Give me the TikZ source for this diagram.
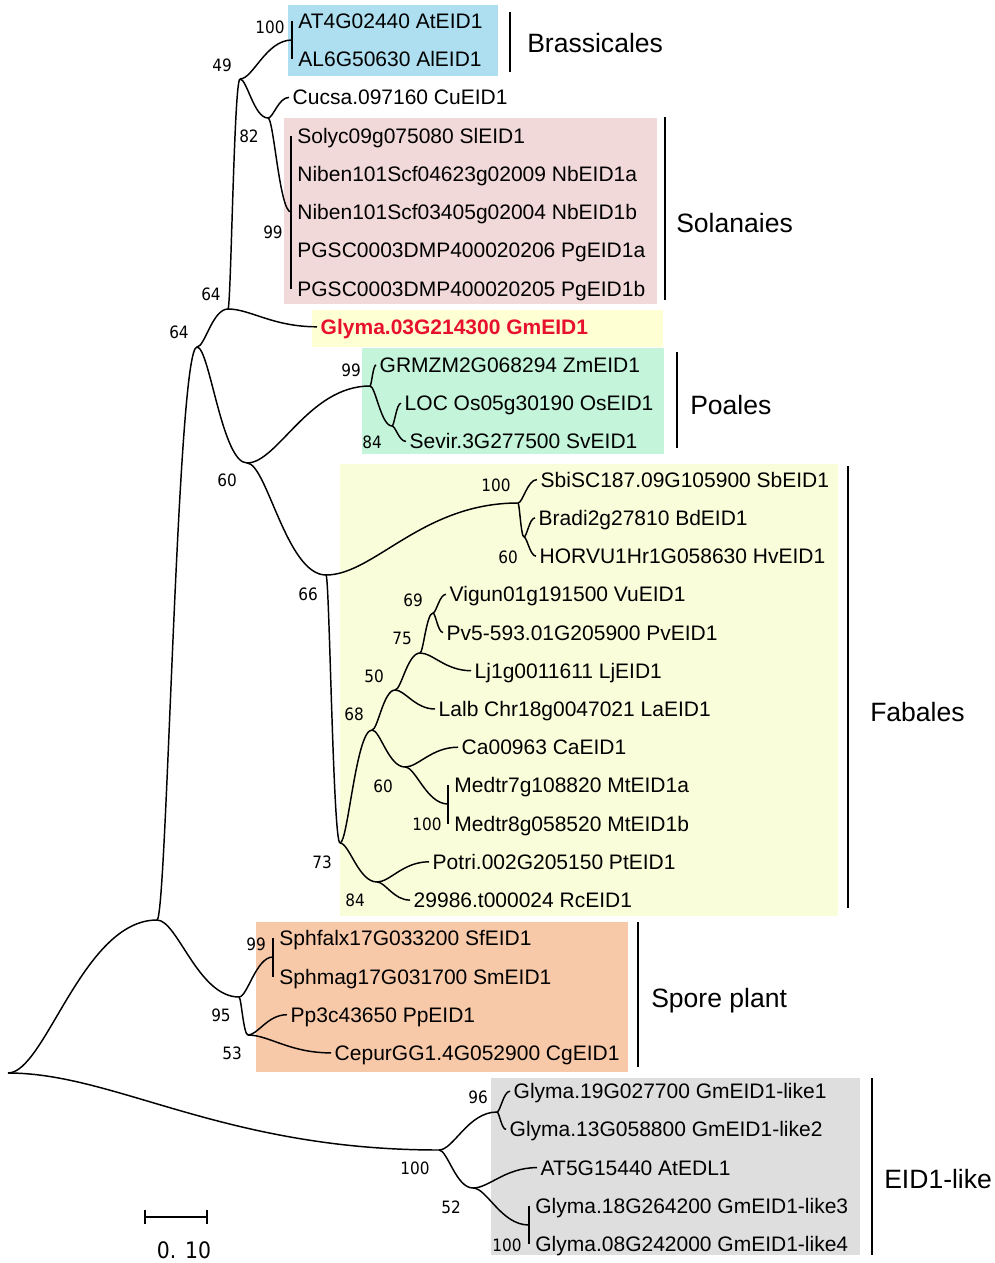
\documentclass[tikz,border=0pt]{standalone}
\usepackage{fontspec}
\setmainfont{Liberation Sans}
\newfontfamily\bsfont{DejaVu Sans}[FakeStretch=0.9]
\usetikzlibrary{calc}
\definecolor{cbrass}{RGB}{173,223,241}
\definecolor{csol}{RGB}{242,217,217}
\definecolor{cgly}{RGB}{255,255,212}
\definecolor{cpoa}{RGB}{196,244,218}
\definecolor{cfab}{RGB}{250,253,218}
\definecolor{cspore}{RGB}{248,201,168}
\definecolor{ceid}{RGB}{222,222,222}
\definecolor{gmred}{RGB}{232,17,45}
\tikzset{
  branch/.style={line width=1.1pt, black},
  leaf/.style={anchor=west, inner ysep=0pt, inner xsep=2.6pt, font=\fontsize{15.75}{18}\selectfont, text height=11.3pt, text depth=0pt},
  combleaf/.style={leaf, inner xsep=4.6pt},
  gmleaf/.style={leaf, text=gmred, font=\fontsize{15.75}{18}\selectfont\bfseries},
  boot/.style={inner sep=0pt, font=\bsfont\fontsize{12.75}{14}\selectfont, text height=9.3pt, text depth=0pt},
  clade/.style={anchor=west, inner sep=0pt, font=\fontsize{19.9}{22}\selectfont, text height=14.25pt, text depth=0pt},
  cladebar/.style={line width=1.5pt},
  scaletext/.style={inner sep=0pt, font=\bsfont\fontsize{17}{19}\selectfont, text height=12.4pt, text depth=0pt}
}
\newcommand\brch[2]{\draw[branch] let \p1=(#1), \p2=(#2) in (\p1) .. controls ({0.75*\x1+0.25*\x2},\y1) and ({0.5*\x1+0.5*\x2},\y2) .. (\p2);}
\begin{document}
\begin{tikzpicture}[x=0.75pt,y=-0.75pt]
\useasboundingbox (0,0) rectangle (995,1263);
\fill[white] (0,0) rectangle (995,1263);
% highlight boxes
\fill[cbrass] (288,5) rectangle (498,76);
\fill[csol] (284,118) rectangle (657,304);
\fill[cgly] (312,310) rectangle (663,347);
\fill[cpoa] (362,348) rectangle (664,454);
\fill[cfab] (340,464) rectangle (838,916);
\fill[cspore] (256,922) rectangle (628,1072);
\fill[ceid] (491,1078) rectangle (860,1255);
% internal nodes
\coordinate (R) at (8,1073);
\coordinate (A) at (157,920);
\coordinate (B) at (197,347);
\coordinate (C) at (228,309);
\coordinate (N49) at (240,79);
\coordinate (Nbrass) at (292,40);
\coordinate (N82) at (268,118);
\coordinate (Nsol) at (291,212);
\coordinate (N60) at (247,463);
\coordinate (Npoa) at (370,386);
\coordinate (N84) at (392,426);
\coordinate (N66) at (326,575);
\coordinate (Ngrass) at (518,503);
\coordinate (N60b) at (524,537);
\coordinate (N73) at (340,843);
\coordinate (N68) at (372,730);
\coordinate (N50) at (395,690);
\coordinate (N75) at (420,653);
\coordinate (N69) at (433,613);
\coordinate (N60c) at (405,767);
\coordinate (Nmedtr) at (448,804);
\coordinate (N84b) at (377,882);
\coordinate (Nspore) at (239,997);
\coordinate (Nsph) at (273,957);
\coordinate (N53) at (248,1035);
\coordinate (Neid) at (439,1150);
\coordinate (N96) at (497,1112);
\coordinate (N52) at (473,1188);
\coordinate (Nlike) at (529,1225);
% leaves
\node[combleaf] (l0) at (292,21.0) {AT4G02440 AtEID1};
\node[combleaf] (l1) at (292,59.2) {AL6G50630 AlEID1};
\node[leaf] (l2) at (289,97.4) {Cucsa.097160 CuEID1};
\node[combleaf] (l3) at (291,135.7) {Solyc09g075080 SlEID1};
\node[combleaf] (l4) at (291,173.9) {Niben101Scf04623g02009 NbEID1a};
\node[combleaf] (l5) at (291,212.1) {Niben101Scf03405g02004 NbEID1b};
\node[combleaf] (l6) at (291,250.3) {PGSC0003DMP400020206 PgEID1a};
\node[combleaf] (l7) at (291,288.5) {PGSC0003DMP400020205 PgEID1b};
\node[gmleaf] (l8) at (317,326.8) {Glyma.03G214300 GmEID1};
\node[leaf] (l9) at (376,365.0) {GRMZM2G068294 ZmEID1};
\node[leaf] (l10) at (401,403.2) {LOC Os05g30190 OsEID1};
\node[leaf] (l11) at (406,441.4) {Sevir.3G277500 SvEID1};
\node[leaf] (l12) at (537,479.6) {SbiSC187.09G105900 SbEID1};
\node[leaf] (l13) at (535,517.9) {Bradi2g27810 BdEID1};
\node[leaf] (l14) at (536,556.1) {HORVU1Hr1G058630 HvEID1};
\node[leaf] (l15) at (446,594.3) {Vigun01g191500 VuEID1};
\node[leaf] (l16) at (443,632.5) {Pv5-593.01G205900 PvEID1};
\node[leaf] (l17) at (471,670.7) {Lj1g0011611 LjEID1};
\node[leaf] (l18) at (435,709.0) {Lalb Chr18g0047021 LaEID1};
\node[leaf] (l19) at (458,747.2) {Ca00963 CaEID1};
\node[combleaf] (l20) at (448,785.4) {Medtr7g108820 MtEID1a};
\node[combleaf] (l21) at (448,823.6) {Medtr8g058520 MtEID1b};
\node[leaf] (l22) at (429,861.8) {Potri.002G205150 PtEID1};
\node[leaf] (l23) at (410,900.1) {29986.t000024 RcEID1};
\node[combleaf] (l24) at (273,938.3) {Sphfalx17G033200 SfEID1};
\node[combleaf] (l25) at (273,976.5) {Sphmag17G031700 SmEID1};
\node[leaf] (l26) at (287,1014.7) {Pp3c43650 PpEID1};
\node[leaf] (l27) at (331,1052.9) {CepurGG1.4G052900 CgEID1};
\node[leaf] (l28) at (510,1091.2) {Glyma.19G027700 GmEID1-like1};
\node[leaf] (l29) at (506,1129.4) {Glyma.13G058800 GmEID1-like2};
\node[leaf] (l30) at (537,1167.6) {AT5G15440 AtEDL1};
\node[combleaf] (l31) at (529,1205.8) {Glyma.18G264200 GmEID1-like3};
\node[combleaf] (l32) at (529,1244.0) {Glyma.08G242000 GmEID1-like4};
% branches
\brch{R}{A} \brch{R}{Neid}
\brch{A}{B} \brch{A}{Nspore}
\brch{B}{C} \brch{B}{N60}
\brch{C}{N49} \brch{C}{l8.west}
\brch{N49}{Nbrass} \brch{N49}{N82}
\draw[branch] (l0.west) -- (l1.west);
\brch{N82}{l2.west} \brch{N82}{Nsol}
\draw[branch] (l3.west) -- (l7.west);
\brch{N60}{Npoa} \brch{N60}{N66}
\brch{Npoa}{l9.west} \brch{Npoa}{N84}
\brch{N84}{l10.west} \brch{N84}{l11.west}
\brch{N66}{Ngrass} \brch{N66}{N73}
\brch{Ngrass}{l12.west} \brch{Ngrass}{N60b}
\brch{N60b}{l13.west} \brch{N60b}{l14.west}
\brch{N73}{N68} \brch{N73}{N84b}
\brch{N68}{N50} \brch{N68}{N60c}
\brch{N50}{N75} \brch{N50}{l18.west}
\brch{N75}{N69} \brch{N75}{l17.west}
\brch{N69}{l15.west} \brch{N69}{l16.west}
\brch{N60c}{l19.west} \brch{N60c}{Nmedtr}
\draw[branch] (l20.west) -- (l21.west);
\brch{N84b}{l22.west} \brch{N84b}{l23.west}
\brch{Nspore}{Nsph} \brch{Nspore}{N53}
\draw[branch] (l24.west) -- (l25.west);
\brch{N53}{l26.west} \brch{N53}{l27.west}
\brch{Neid}{N96} \brch{Neid}{N52}
\brch{N96}{l28.west} \brch{N96}{l29.west}
\brch{N52}{l30.west} \brch{N52}{Nlike}
\draw[branch] (l31.west) -- (l32.west);
% bootstrap values
\node[boot] (b1) at (270,27) {100};
\node[boot] (b2) at (222,65) {49};
\node[boot] (b3) at (249,136) {82};
\node[boot] (b4) at (273,232) {99};
\node[boot] (b5) at (211,294) {64};
\node[boot] (b6) at (179,332) {64};
\node[boot] (b7) at (351,370) {99};
\node[boot] (b8) at (372,442) {84};
\node[boot] (b9) at (227,480) {60};
\node[boot] (b10) at (496,485) {100};
\node[boot] (b11) at (508,557) {60};
\node[boot] (b12) at (308,594) {66};
\node[boot] (b13) at (413,600) {69};
\node[boot] (b14) at (402,638) {75};
\node[boot] (b15) at (374,676) {50};
\node[boot] (b16) at (354,714) {68};
\node[boot] (b17) at (383,786) {60};
\node[boot] (b18) at (427,824) {100};
\node[boot] (b19) at (322,862) {73};
\node[boot] (b20) at (355,900) {84};
\node[boot] (b21) at (256,944) {99};
\node[boot] (b22) at (221,1015) {95};
\node[boot] (b23) at (232,1053) {53};
\node[boot] (b24) at (478,1097) {96};
\node[boot] (b25) at (415,1168) {100};
\node[boot] (b26) at (451,1207) {52};
\node[boot] (b27) at (507,1245) {100};
% clade bars and names
\coordinate (cb1t) at (510,12); \coordinate (cb1b) at (510,72);
\draw[cladebar] (cb1t) -- (cb1b);
\node[clade] (c1) at (527,43) {Brassicales};
\coordinate (cb2t) at (665,117); \coordinate (cb2b) at (665,300);
\draw[cladebar] (cb2t) -- (cb2b);
\node[clade] (c2) at (676,223) {Solanaies};
\coordinate (cb3t) at (677,352); \coordinate (cb3b) at (677,448);
\draw[cladebar] (cb3t) -- (cb3b);
\node[clade] (c3) at (690,405) {Poales};
\coordinate (cb4t) at (848,466); \coordinate (cb4b) at (848,908);
\draw[cladebar] (cb4t) -- (cb4b);
\node[clade] (c4) at (870,712) {Fabales};
\coordinate (cb5t) at (638,922); \coordinate (cb5b) at (638,1067);
\draw[cladebar] (cb5t) -- (cb5b);
\node[clade] (c5) at (651,998) {Spore plant};
\coordinate (cb6t) at (872,1078); \coordinate (cb6b) at (872,1255);
\draw[cladebar] (cb6t) -- (cb6b);
\node[clade] (c6) at (884,1179) {EID1-like};
% scale bar
\coordinate (s1) at (145,1217); \coordinate (s2) at (207,1217);
\coordinate (s1t) at (145,1210); \coordinate (s1b) at (145,1224);
\coordinate (s2t) at (207,1210); \coordinate (s2b) at (207,1224);
\draw[cladebar] (s1) -- (s2);
\draw[cladebar] (s1t) -- (s1b);
\draw[cladebar] (s2t) -- (s2b);
\node[scaletext] (st) at (184,1250) {0. 10};
\end{tikzpicture}
\end{document}
